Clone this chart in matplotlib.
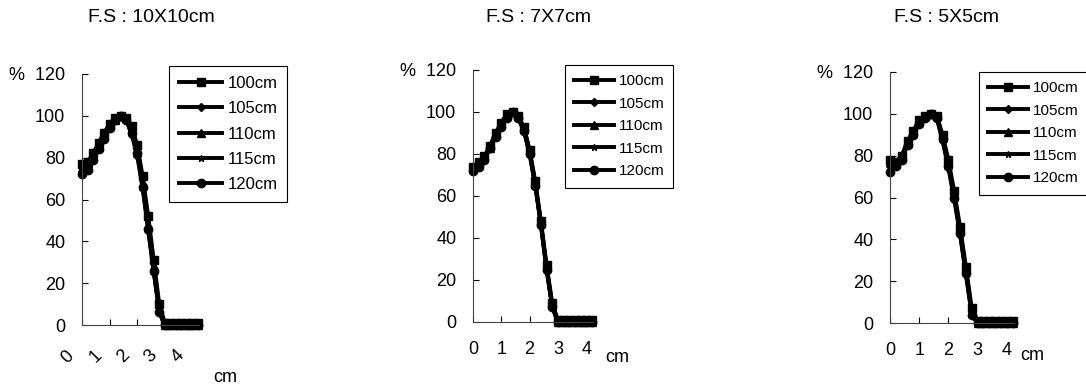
import matplotlib
matplotlib.use("Agg")
import matplotlib.pyplot as plt
import matplotlib.transforms as mtransforms

plt.rcParams['font.family'] = ['Liberation Sans', 'DejaVu Sans']

W, H = 1086, 388

# distance from the field centre (cm)
x_cm = [0, 0.2, 0.4, 0.6, 0.8, 1.0, 1.2, 1.4, 1.6, 1.8, 2.0,
        2.2, 2.4, 2.6, 2.8, 3.0, 3.2, 3.4, 3.6, 3.8, 4.0, 4.2]

ssd_labels = ["100cm", "105cm", "110cm", "115cm", "120cm"]
titles = ["F.S : 10X10cm", "F.S : 7X7cm", "F.S : 5X5cm"]
y_ticks = [0, 20, 40, 60, 80, 100, 120]
y_ticklabels = ["0", "20", "40", "60", "80", "100", "%  120"]
x_ticks = [0, 1, 2, 3, 4]

# relative dose (%) for each SSD, field 10x10
fs10_100 = [77, 78, 82, 87, 92, 96, 99, 100, 99, 95, 86, 71, 52, 31, 10, 1, 1, 1, 1, 1, 1, 1]
fs10_105 = [73, 75, 79, 84, 89, 94, 98, 100, 98, 91, 81, 65, 45, 25, 6, 0, 0, 0, 0, 0, 0, 0]
fs10_110 = [75, 77, 80, 85, 90, 95, 98, 100, 99, 93, 84, 68, 48, 28, 8, 0, 0, 0, 0, 0, 0, 0]
fs10_115 = [74, 76, 80, 85, 90, 95, 98, 100, 99, 93, 83, 67, 47, 27, 7, 0, 1, 0, 1, 0, 1, 0]
fs10_120 = [72, 74, 79, 84, 89, 94, 98, 100, 98, 92, 82, 66, 46, 26, 6, 0, 0, 0, 0, 0, 0, 0]

# field 7x7
fs7_100 = [74, 76, 79, 84, 90, 95, 99, 100, 98, 93, 82, 67, 48, 27, 9, 1, 1, 1, 1, 1, 1, 1]
fs7_105 = [72, 74, 78, 83, 88, 93, 97, 100, 97, 91, 80, 65, 46, 25, 7, 0, 0, 0, 0, 0, 0, 0]
fs7_110 = [73, 75, 78, 83, 89, 94, 98, 100, 98, 92, 81, 66, 47, 26, 8, 0, 0, 0, 0, 0, 0, 0]
fs7_115 = [73, 75, 78, 84, 89, 94, 98, 100, 98, 92, 81, 66, 47, 26, 8, 0, 1, 0, 1, 0, 1, 0]
fs7_120 = [72, 74, 77, 83, 88, 93, 97, 100, 97, 91, 80, 65, 46, 25, 7, 0, 0, 0, 0, 0, 0, 0]

# field 5x5
fs5_100 = [78, 77, 80, 87, 92, 97, 99, 100, 99, 90, 78, 63, 46, 27, 7, 1, 1, 1, 1, 1, 1, 1]
fs5_105 = [75, 76, 79, 86, 91, 96, 99, 100, 98, 87, 74, 59, 42, 23, 4, 0, 0, 0, 0, 0, 0, 0]
fs5_110 = [77, 76, 79, 86, 91, 96, 99, 100, 99, 89, 76, 61, 44, 25, 5, 0, 0, 0, 0, 0, 0, 0]
fs5_115 = [76, 76, 79, 86, 91, 96, 99, 100, 99, 89, 76, 61, 44, 25, 5, 0, 1, 0, 1, 0, 1, 0]
fs5_120 = [72, 75, 78, 85, 90, 95, 98, 100, 98, 88, 75, 60, 43, 24, 4, 0, 0, 0, 0, 0, 0, 0]

panels = [
    [fs10_100, fs10_105, fs10_110, fs10_115, fs10_120],
    [fs7_100, fs7_105, fs7_110, fs7_115, fs7_120],
    [fs5_100, fs5_105, fs5_110, fs5_115, fs5_120],
]

markers = ['s', 'D', '^', '*', 'o']
msizes = [6, 4.5, 6, 5, 6]

# layout in pixels: axes left, axes top (y=120), axes bottom (y=0), px per cm
axes_px = [(82, 74, 325, 27.6), (473, 70, 322, 28.3), (890, 72, 323, 29.2)]
legend_px = [(169, 66), (565, 65), (979, 72)]
legend_fs = [12, 11, 11]
legend_sp = [0.62, 0.56, 0.56]
title_px = [(151, 18), (539, 18), (946, 18)]
cm_px = [(225, 378), (617, 357), (1032, 356)]

fig = plt.figure(figsize=(W / 100, H / 100), dpi=100)

for i, series in enumerate(panels):
    left, top, bottom, scale = axes_px[i]
    xmax = 4.25
    ax = fig.add_axes([left / W, 1 - bottom / H, xmax * scale / W, (bottom - top) / H])
    for j, y in enumerate(series):
        ax.plot(x_cm, y, color='black', lw=2.8, marker=markers[j], ms=msizes[j],
                label=ssd_labels[j], clip_on=False)
    ax.set_xlim(0, xmax)
    ax.set_ylim(0, 120)
    for s in ['top', 'right']:
        ax.spines[s].set_visible(False)
    for s in ['left', 'bottom']:
        ax.spines[s].set_linewidth(0.8)
        ax.spines[s].set_color('#444444')
    ax.set_yticks(y_ticks)
    ax.set_yticklabels(y_ticklabels)
    ax.set_xticks(x_ticks)
    ax.tick_params(axis='both', direction='in', length=4, width=0.8, labelsize=13)
    ax.tick_params(axis='y', pad=12)
    if i == 0:
        ax.tick_params(axis='x', pad=16)
        offset = mtransforms.ScaledTranslation(-14 / 100, 0, fig.dpi_scale_trans)
        for lab in ax.get_xticklabels():
            lab.set_rotation(45)
            lab.set_transform(lab.get_transform() + offset)
    else:
        ax.tick_params(axis='x', pad=14)

    lx, ly = legend_px[i]
    leg = ax.legend(loc='upper left', bbox_to_anchor=(lx / W, 1 - ly / H),
                    bbox_transform=fig.transFigure, borderaxespad=0,
                    fancybox=False, edgecolor='black', framealpha=1,
                    fontsize=legend_fs[i], handlelength=2.6, handletextpad=0.3,
                    labelspacing=legend_sp[i], borderpad=0.6)
    leg.get_frame().set_linewidth(0.8)

    tx, ty = title_px[i]
    fig.text(tx / W, 1 - ty / H, titles[i], ha='center', va='center', fontsize=14)
    cx, cy = cm_px[i]
    fig.text(cx / W, 1 - cy / H, "cm", ha='center', va='center', fontsize=13)

fig.savefig("out.png", dpi=100)
